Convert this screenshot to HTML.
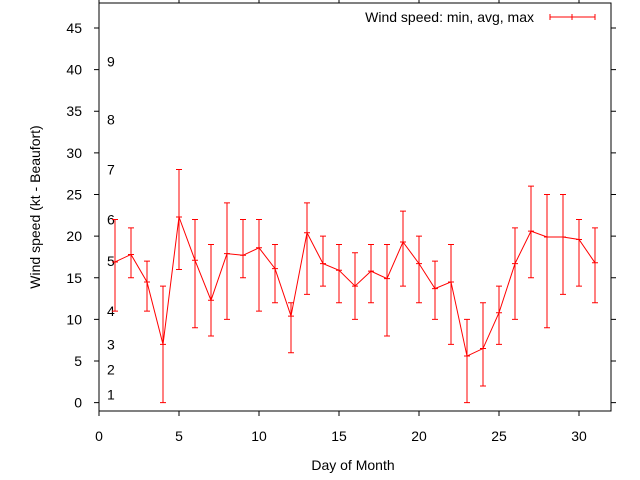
<!DOCTYPE html>
<html><head><meta charset="utf-8"><style>
body{margin:0;background:#fff}
svg{display:block;font-family:"Liberation Sans",sans-serif}
</style></head><body>
<svg id="chart" width="640" height="480" viewBox="0 0 640 480" xmlns="http://www.w3.org/2000/svg">
<g id="axes"></g>
<g id="marks"></g>
</svg>
<script>
const days=[1,2,3,4,5,6,7,8,9,10,11,12,13,14,15,16,17,18,19,20,21,22,23,24,25,26,27,28,29,30,31];
const avgSpeed=[16.9,17.8,14.5,7,22.3,17.1,12.3,17.9,17.7,18.6,16.1,10.4,20.4,16.7,15.9,14,15.8,14.9,19.3,16.7,13.7,14.5,5.6,6.5,10.8,16.7,20.6,19.9,19.9,19.6,16.8];
const minSpeed=[11,15,11,0,16,9,8,10,15,11,12,6,13,14,12,10,12,8,14,12,10,7,0,2,7,10,15,9,13,14,12];
const maxSpeed=[22,21,17,14,28,22,19,24,22,22,19,12,24,20,19,18,19,19,23,20,17,19,10,12,14,21,26,25,25,22,21];
const xTicks=[0,5,10,15,20,25,30];
const yTicks=[0,5,10,15,20,25,30,35,40,45];
const beaufortLabels=["1","2","3","4","5","6","7","8","9"];
const beaufortKt=[1,4,7,11,17,22,28,34,41];

const L=99,R=611,T=3,B=411;
const xmin=0,xmax=32,ymin=-1,ymax=48;
const X=v=>L+(v-xmin)/(xmax-xmin)*(R-L);
const Y=v=>B-(v-ymin)/(ymax-ymin)*(B-T);
const NS="http://www.w3.org/2000/svg";
function mk(tag,attrs,parent){const e=document.createElementNS(NS,tag);for(const k in attrs)e.setAttribute(k,attrs[k]);parent.appendChild(e);return e;}
const axes=document.getElementById('axes'),marks=document.getElementById('marks');

const frame=mk('rect',{x:L,y:T,width:R-L,height:B-T,fill:'none',stroke:'#000','stroke-width':1},axes);



xTicks.forEach(t=>{
  const x=X(t);
  const tk=mk('path',{d:`M${x} ${B}v5M${x} ${T}v-4`,stroke:'#000'},axes);
  
  
  const lb=mk('text',{x:x,y:441,'text-anchor':'middle','font-size':14},axes);
  lb.textContent=t;
  
  
});
yTicks.forEach(t=>{
  const y=Y(t);
  const tk=mk('path',{d:`M${L} ${y}h-5M${R} ${y}h5`,stroke:'#000'},axes);
  
  
  const lb=mk('text',{x:82,y:y+5,'text-anchor':'end','font-size':14},axes);
  lb.textContent=t;
  
  
});
beaufortLabels.forEach((s,i)=>{
  const lb=mk('text',{x:107,y:Y(beaufortKt[i])+5,'font-size':14},axes);
  lb.textContent=s;
  
  
});
const xt=mk('text',{x:353,y:470,'text-anchor':'middle','font-size':14},axes);
xt.textContent='Day of Month';


const yt=mk('text',{x:0,y:0,'text-anchor':'middle','font-size':14,transform:'translate(40,207) rotate(-90)'},axes);
yt.textContent='Wind speed (kt - Beaufort)';



// legend
const lt=mk('text',{x:534,y:22,'text-anchor':'end','font-size':14},axes);
lt.textContent='Wind speed: min, avg, max';


const ls=mk('path',{d:'M550 17H595M550 14v6M595 14v6M572 14v6',stroke:'#f00',fill:'none'},axes);



// series
const pts=days.map((d,i)=>X(d)+','+Y(avgSpeed[i])).join(' ');
const line=mk('polyline',{points:pts,fill:'none',stroke:'#f00','stroke-width':1},marks);


days.forEach((d,i)=>{
  const x=X(d),y1=Y(minSpeed[i]),y2=Y(maxSpeed[i]),ya=Y(avgSpeed[i]);
  const eb=mk('path',{d:`M${x} ${y1}V${y2}M${x-3} ${y1}h6M${x-3} ${y2}h6M${x-3} ${ya}h6`,stroke:'#f00',fill:'none','stroke-width':1},marks);
  
  
});
</script>
</body></html>
